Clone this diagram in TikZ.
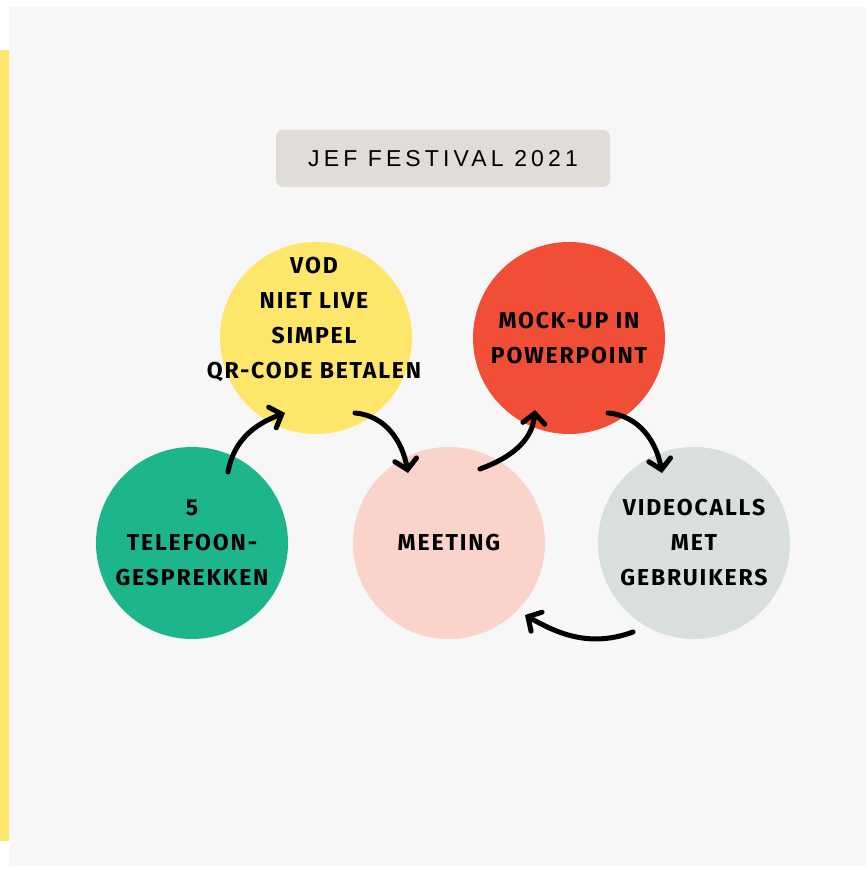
\documentclass[tikz,border=0pt]{standalone}
\usepackage{fontspec}
\newfontfamily\handfont[LetterSpace=8]{Fira Sans}
\newfontfamily\titlefont[LetterSpace=18]{Liberation Sans}
\definecolor{fondo}{RGB}{247,247,247}
\definecolor{amarillo}{RGB}{254,230,106}
\definecolor{verde}{RGB}{29,181,140}
\definecolor{rosa}{RGB}{250,212,203}
\definecolor{rojo}{RGB}{240,78,55}
\definecolor{grisClaro}{RGB}{216,223,222}
\definecolor{arena}{RGB}{224,220,216}
\usepackage{tikz}
\usetikzlibrary{arrows.meta,calc,positioning}
\tikzstyle{bubble}=[circle, minimum size=192pt, inner sep=0pt,
                    outer sep=0pt, align=center,
                    font=\handfont\bfseries\fontsize{23}{35}\selectfont]
\tikzstyle{flecha}=[line width=5pt, line cap=round,
                    -{Straight Barb[length=10pt,width=22pt,line cap=round]}]

\begin{document}
\begin{tikzpicture}[x=1pt,y=1pt]
    \useasboundingbox (0,0) rectangle (866,871);
    \fill[white] (0,0) rectangle (866,871);
    \fill[fondo] (9,5) rectangle (866,864);
    \fill[amarillo] (0,30) rectangle (9,821);

    \node (titulo)[fill=arena, rounded corners=7pt, minimum width=334pt,
        minimum height=57pt, font=\titlefont\fontsize{23}{26}\selectfont]
        at (443,712.5) {JEF FESTIVAL 2021};

    \node (tel)[bubble, fill=verde] at (192,328) {5\\TELEFOON-\\GESPREKKEN};
    \node (vod)[bubble, fill=amarillo] at (316,533) {};
    \node[align=center, font=\handfont\bfseries\fontsize{23}{35}\selectfont]
        at (314,551) {VOD\\NIET LIVE\\SIMPEL\\QR-CODE BETALEN};
    \node (meeting)[bubble, fill=rosa] at (449,328) {MEETING};
    \node (mock)[bubble, fill=rojo] at (569,533) {MOCK-UP IN\\POWERPOINT};
    \node (calls)[bubble, fill=grisClaro] at (694,328) {VIDEOCALLS\\MET\\GEBRUIKERS};

    \foreach \a/\sa/\b/\sb/\o/\n in
        {tel/{36,71}/vod/{-31,-75}/80/200,
         vod/{39,-75}/meeting/{-41,70}/-5/100,
         meeting/{31,74}/mock/{-34,-72}/20/265,
         mock/{39,-75}/calls/{-32,70}/-5/100,
         calls/{-61,-89}/meeting/{76,-72}/200/-30}
        \draw [flecha] ($(\a)+(\sa)$) to[out=\o,in=\n] ($(\b)+(\sb)$);

\end{tikzpicture}
\end{document}
